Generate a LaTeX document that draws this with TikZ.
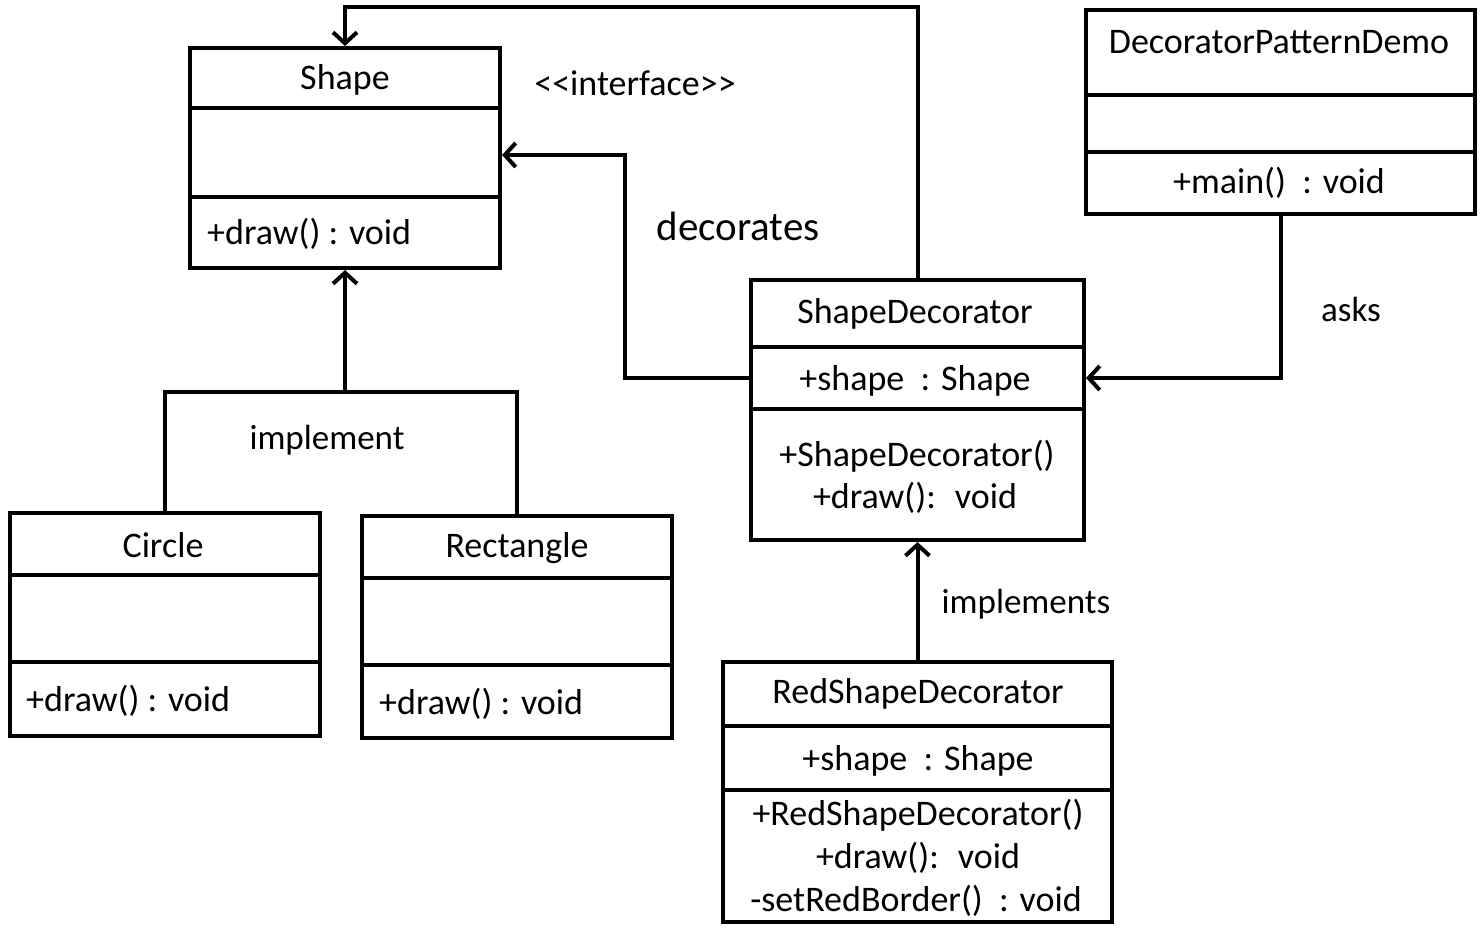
\documentclass[tikz,border=0pt]{standalone}
\usepackage{fontspec}
\setmainfont{Carlito}
\usetikzlibrary{arrows.meta}
\begin{document}
\begin{tikzpicture}[x=1pt,y=-1pt,
  cls/.style={draw, line width=4pt, inner sep=0pt},
  div/.style={line width=4pt},
  conn/.style={line width=4pt},
  arr/.style={line width=4pt, -{Straight Barb[length=11pt,width=24pt,line width=4pt]}},
  txt/.style={inner sep=0pt, font=\fontsize{36}{42}\selectfont},
  ltxt/.style={txt, anchor=west},
  lab/.style={inner sep=0pt, font=\fontsize{35}{42}\selectfont}]
\useasboundingbox[fill=white] (0,0) rectangle (1483,930);

% Shape
\node[cls, minimum width=310pt, minimum height=220pt] (shape) at (345,158) {};
\draw[div] (shape.west |- 0,108) -- (shape.east |- 0,108);
\draw[div] (shape.west |- 0,197) -- (shape.east |- 0,197);
\node[txt] (shapeT) at (345,80) {Shape};
\node[ltxt] (shapeM) at (207,234) {+draw() : void};

% Circle
\node[cls, minimum width=310pt, minimum height=223pt] (circle) at (165,624.5) {};
\draw[div] (circle.west |- 0,575) -- (circle.east |- 0,575);
\draw[div] (circle.west |- 0,662) -- (circle.east |- 0,662);
\node[txt] (circleT) at (163,545) {Circle};
\node[ltxt] (circleM) at (26,701) {+draw() : void};

% Rectangle
\node[cls, minimum width=310pt, minimum height=222pt] (rect) at (517,627) {};
\draw[div] (rect.west |- 0,578) -- (rect.east |- 0,578);
\draw[div] (rect.west |- 0,665) -- (rect.east |- 0,665);
\node[txt] (rectT) at (517,548) {Rectangle};
\node[ltxt] (rectM) at (379,704) {+draw() : void};

% ShapeDecorator
\node[cls, minimum width=333pt, minimum height=260pt] (sd) at (917.5,410) {};
\draw[div] (sd.west |- 0,347) -- (sd.east |- 0,347);
\draw[div] (sd.west |- 0,409) -- (sd.east |- 0,409);
\node[txt] (sdT) at (915,314) {ShapeDecorator};
\node[txt] (sdF) at (915,381) {+shape \ : Shape};
\node[txt] (sdM1) at (917,456) {+ShapeDecorator()};
\node[txt] (sdM2) at (915,498) {+draw(): \ void};

% RedShapeDecorator
\node[cls, minimum width=389pt, minimum height=260pt] (rsd) at (917.5,792) {};
\draw[div] (rsd.west |- 0,726) -- (rsd.east |- 0,726);
\draw[div] (rsd.west |- 0,790) -- (rsd.east |- 0,790);
\node[txt] (rsdT) at (918,694) {RedShapeDecorator};
\node[txt] (rsdF) at (918,761) {+shape \ : Shape};
\node[txt] (rsdM1) at (918,815) {+RedShapeDecorator()};
\node[txt] (rsdM2) at (918,858) {+draw(): \ void};
\node[txt] (rsdM3) at (916,901) {-setRedBorder() \ : void};

% DecoratorPatternDemo
\node[cls, minimum width=389pt, minimum height=204pt] (demo) at (1280.5,112) {};
\draw[div] (demo.west |- 0,95) -- (demo.east |- 0,95);
\draw[div] (demo.west |- 0,152) -- (demo.east |- 0,152);
\node[txt] (demoT) at (1279,42) {DecoratorPatternDemo};
\node[txt] (demoM) at (1279,183) {+main() \ : void};

% connectors
\draw[arr] (sd.north) -- (sd.north |- 0,7) -| (shape.north);
\draw[arr] (sd.west |- 0,378) -- (625,378) -- (625,155) -- (shape.east |- 0,155);
\draw[conn] (circle.north) |- (rect.north |- 0,392) -- (rect.north);
\draw[arr] (shape.south |- 0,392) -- (shape.south);
\draw[arr] (rsd.north) -- (sd.south);
\draw[arr] (demo.south) |- (sd.east |- 0,378);

% labels
\node[txt] (iface) at (635,83) {<{}<interface>{}>};
\node[lab, font=\fontsize{41}{48}\selectfont] (dec) at (738,226) {decorates};
\node[lab] (impl) at (327,440) {implement};
\node[lab] (impls) at (1026,604) {implements};
\node[lab] (asks) at (1351,309) {asks};
\end{tikzpicture}
\end{document}
